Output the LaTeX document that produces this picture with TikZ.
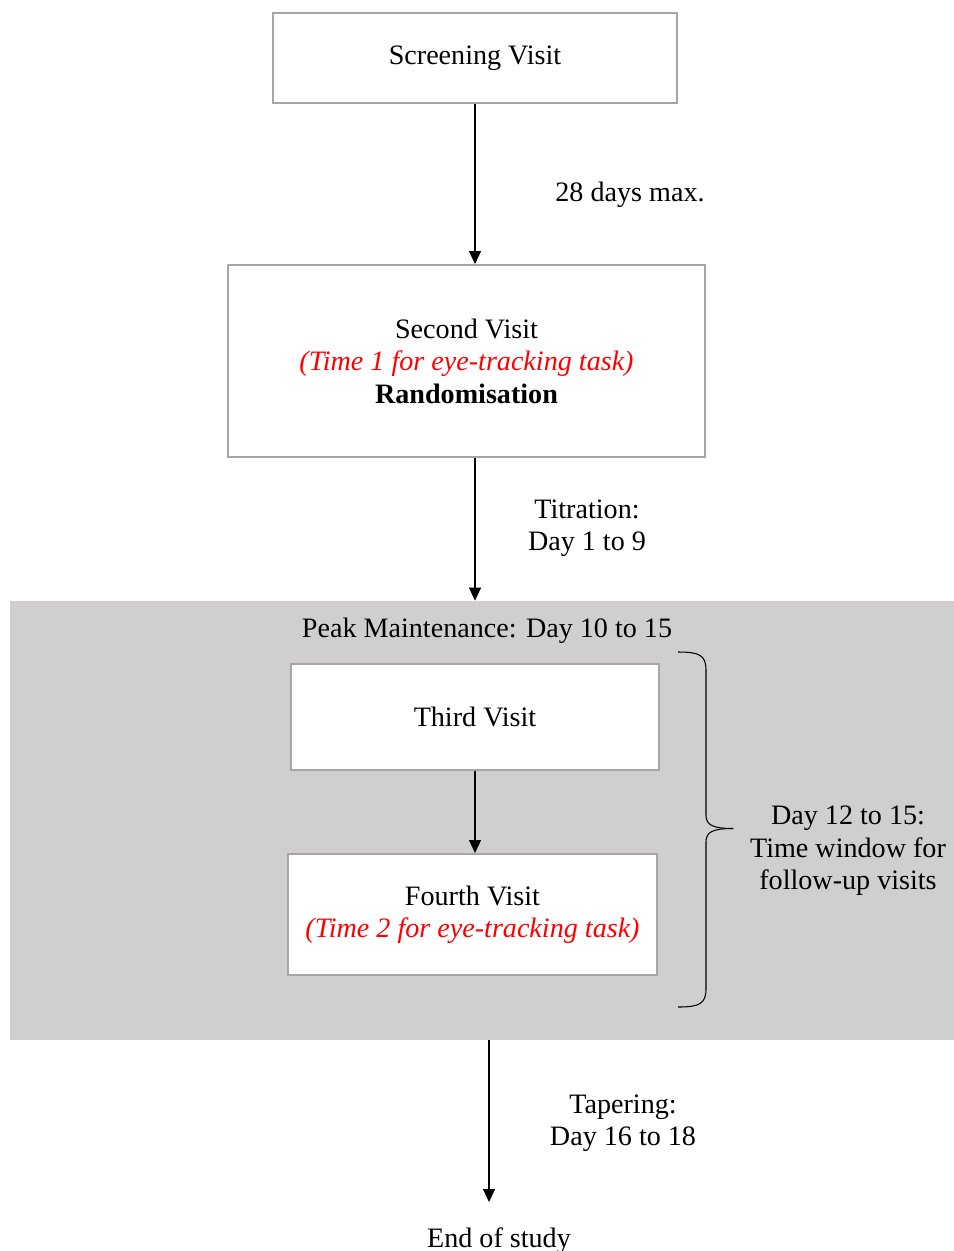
\documentclass[tikz,border=0pt]{standalone}
\usepackage{fontspec}
\setmainfont{Liberation Serif}
\usetikzlibrary{arrows.meta}
\definecolor{bandgray}{HTML}{D0CECE}
\definecolor{boxline}{HTML}{A6A6A6}
\newcommand{\tasknote}[1]{\textcolor{red}{\textit{#1}}}
\tikzset{
  visit/.style={draw=boxline, line width=1.1pt, fill=white, align=center, inner sep=0pt},
  note/.style={align=center, inner sep=0pt},
  flow/.style={-{Triangle[length=0.26cm,width=0.24cm]}, line width=0.6pt}
}
\begin{document}
\begin{tikzpicture}[font=\fontsize{16}{18.5}\selectfont]
            \useasboundingbox (0,0) rectangle (19.08,-25.02);
            % shaded maintenance period
            \node[fill=bandgray, minimum width=18.88cm, minimum height=8.78cm, inner sep=0pt] (peak) at (9.64,-16.41) {};
            \node[note] (peaklbl) at (9.74,-12.62) {Peak Maintenance: Day 10 to 15};
            % visits
            \node[visit, minimum width=8.08cm, minimum height=1.8cm] (scr) at (9.5,-1.16) {Screening Visit};
            \node[visit, minimum width=9.54cm, minimum height=3.84cm] (sec) at (9.33,-7.22) {Second Visit\\ \tasknote{(Time 1 for eye-tracking task)}\\ \textbf{Randomisation}};
            \node[visit, minimum width=7.36cm, minimum height=2.12cm] (thd) at (9.5,-14.34) {Third Visit};
            \node[visit, minimum width=7.38cm, minimum height=2.42cm, text depth=0.12cm] (frth) at (9.45,-18.29) {Fourth Visit\\ \tasknote{(Time 2 for eye-tracking task)}};
            \node[note, anchor=base] (end) at (9.98,-24.94) {End of study};
            \coordinate (tip4) at (9.78,-24.04);
            % periods between visits
            \node[note] (max) at (12.6,-3.9) {28 days max.};
            \node[note] (titr) at (11.74,-10.56) {Titration:\\ Day 1 to 9};
            \node[note] (taper) at (12.46,-22.46) {Tapering:\\ Day 16 to 18};
            \node[note] (window) at (16.96,-17.02) {Day 12 to 15:\\ Time window for\\ follow-up visits};
            % arrows
            \draw[flow] (scr.south) -- (scr.south |- sec.north);
            \draw[flow] (sec.south -| thd) -- (thd |- peak.north);
            \draw[flow] (thd.south) -- (thd.south |- frth.north);
            \draw[flow] (peak.south -| tip4) -- (tip4);
            % brace
            \draw[line width=0.6pt] (13.56,-13.04) .. controls (13.98,-13.04) and (14.12,-13.1) .. (14.12,-13.4)
            -- (14.12,-16.3) .. controls (14.12,-16.5) and (14.25,-16.57) .. (14.66,-16.57);
            \draw[line width=0.6pt] (13.56,-20.14) .. controls (13.98,-20.14) and (14.12,-20.08) .. (14.12,-19.78)
            -- (14.12,-16.84) .. controls (14.12,-16.64) and (14.25,-16.57) .. (14.66,-16.57);
        \end{tikzpicture}
\end{document}
